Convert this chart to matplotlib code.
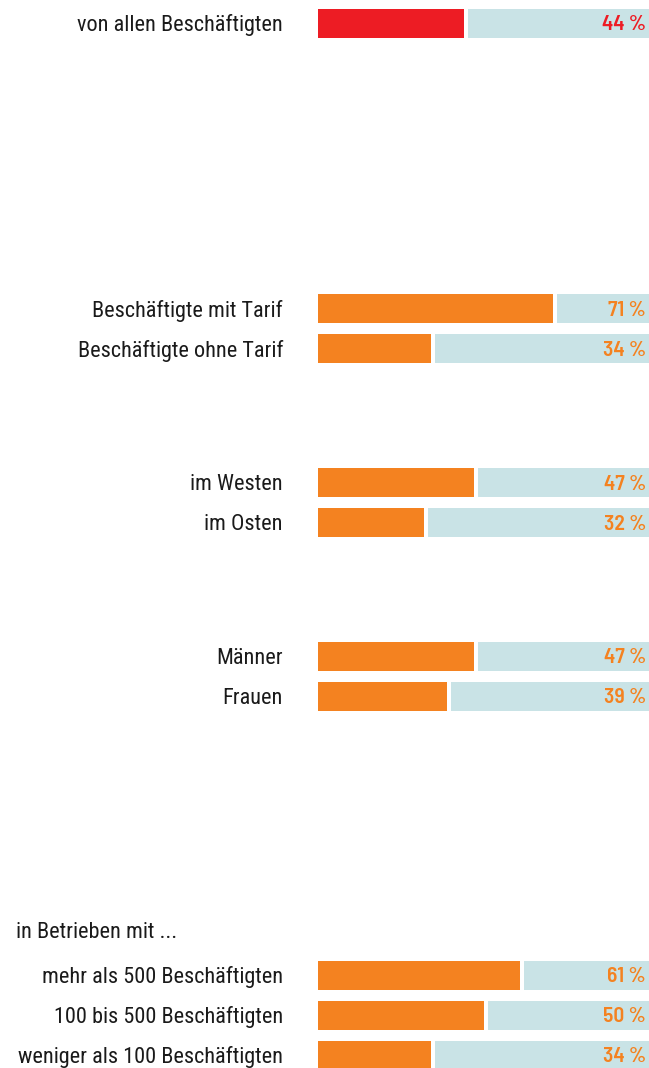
import matplotlib

matplotlib.use("Agg")
import matplotlib.pyplot as plt

# data
labels = [
    "von allen Beschäftigten",
    "Beschäftigte mit Tarif",
    "Beschäftigte ohne Tarif",
    "im Westen",
    "im Osten",
    "Männer",
    "Frauen",
    "mehr als 500 Beschäftigten",
    "100 bis 500 Beschäftigten",
    "weniger als 100 Beschäftigten",
]
values = [44, 71, 34, 47, 32, 47, 39, 61, 50, 34]
group_header = "in Betrieben mit ..."

# layout (pixel units, y grows downward)
row_centers = [23.5, 308.5, 348.5, 482.5, 522.5, 656, 696, 975, 1015, 1055]
header_y = 932
W, H = 649, 1068
BAR_LEFT, BAR_RIGHT = 318, 649
BAR_H = 29
GAP = 4

RED = "#ED1C24"
ORANGE = "#F48220"
LIGHT = "#C9E3E6"

LABEL_FONT = ["Roboto Condensed", "DejaVu Sans"]
VALUE_FONT = ["Barlow Semi Condensed", "Roboto Condensed", "DejaVu Sans"]

fig = plt.figure(figsize=(W / 100, H / 100), dpi=100)
ax = fig.add_axes([0, 0, 1, 1])
ax.set_xlim(0, W)
ax.set_ylim(H, 0)
ax.axis("off")

span = BAR_RIGHT - BAR_LEFT
for i, (label, val, y) in enumerate(zip(labels, values, row_centers)):
    color = RED if i == 0 else ORANGE
    w = span * val / 100
    ax.barh(y, w, left=BAR_LEFT, height=BAR_H, color=color, linewidth=0)
    ax.barh(y, BAR_RIGHT - (BAR_LEFT + w + GAP), left=BAR_LEFT + w + GAP,
            height=BAR_H, color=LIGHT, linewidth=0)
    ax.text(283, y + 2, label, ha="right", va="center", fontsize=16,
            color="#1a1a1a", family=LABEL_FONT)
    ax.text(646, y + 1.5, f"{val} %", ha="right", va="center", fontsize=15.5,
            fontweight="semibold", color=color, family=VALUE_FONT)

ax.text(16, header_y, group_header, ha="left", va="center", fontsize=16,
        color="#1a1a1a", family=LABEL_FONT)

fig.savefig("out.png", dpi=100, facecolor="white")
